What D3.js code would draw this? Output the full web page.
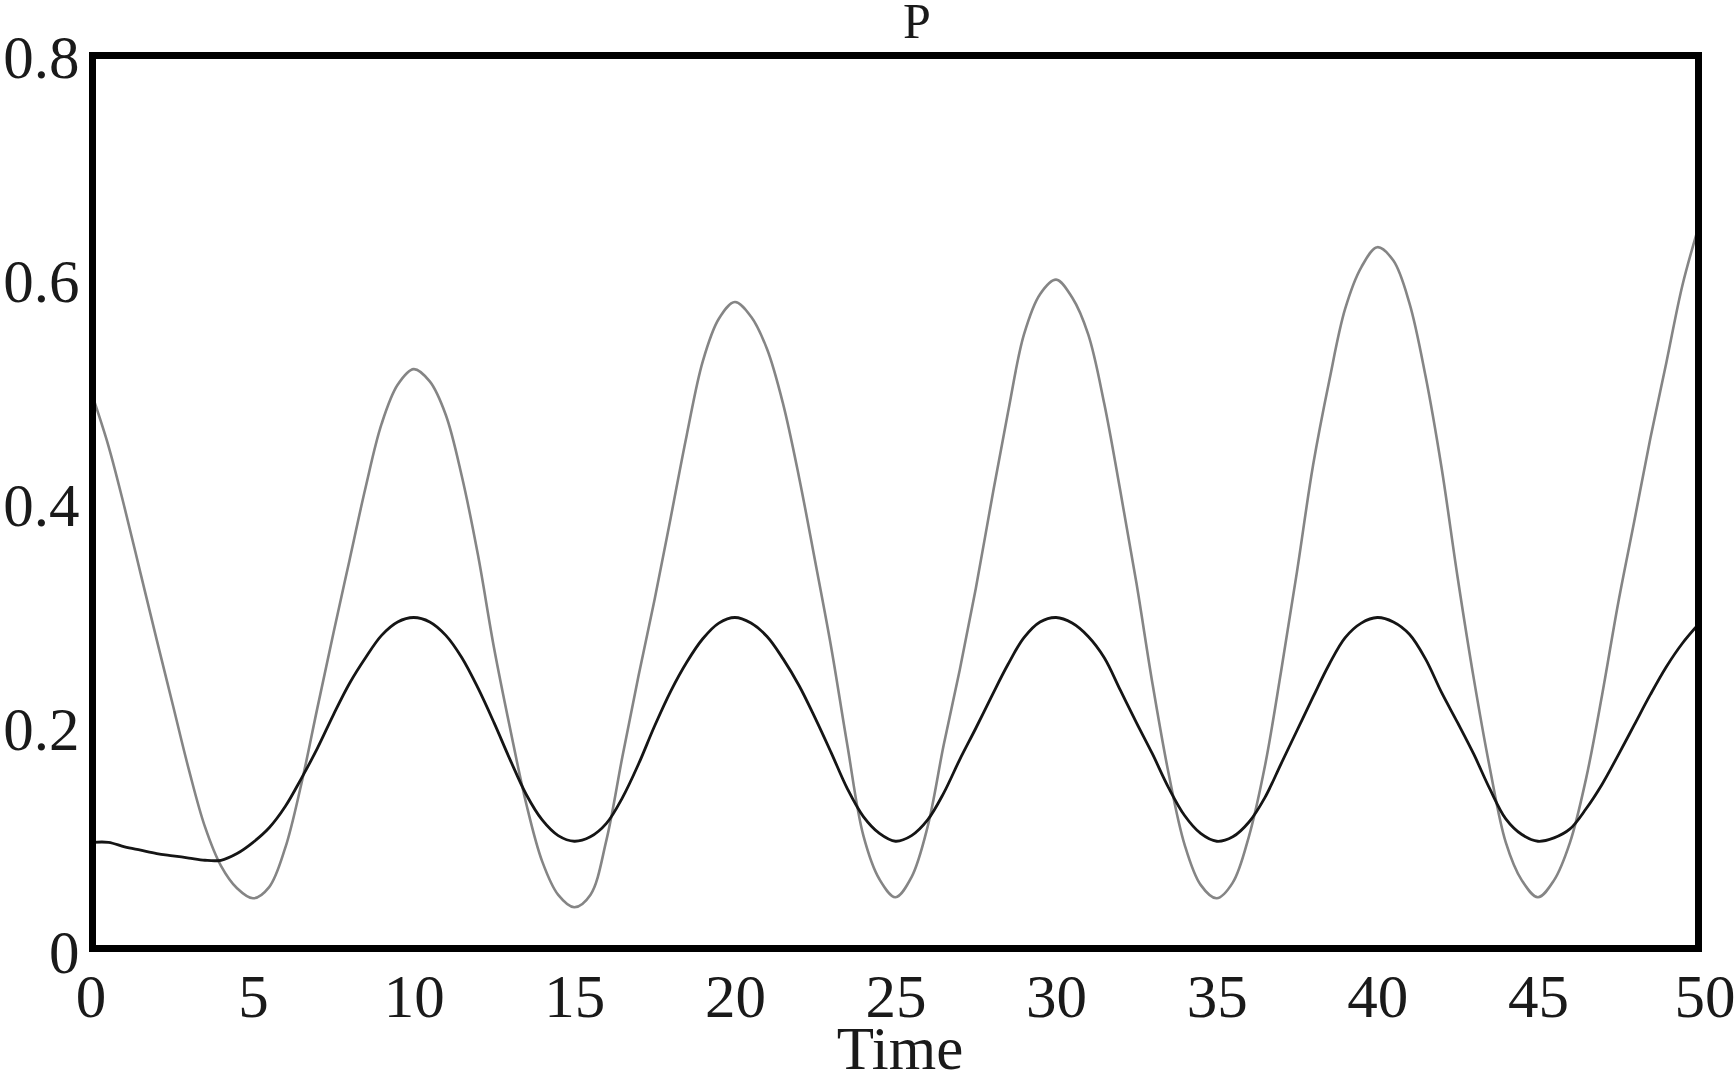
<!DOCTYPE html>
<html>
<head>
<meta charset="utf-8">
<script src="https://cdn.jsdelivr.net/npm/d3@7"></script>
<style>
  html, body { margin: 0; padding: 0; background: #fff; }
  svg { display: block; }
  text { font-family: "Liberation Serif", "Times New Roman", serif; fill: #1a1a1a; }
</style>
</head>
<body>
<svg id="chart" width="1735" height="1072"></svg>
<script>
// ---- data ----
const title = "P";
const xLabel = "Time";
const time = d3.range(0, 50.01, 0.5);
const xTicks = [0, 5, 10, 15, 20, 25, 30, 35, 40, 45, 50];
const yTicks = [0, 0.2, 0.4, 0.6, 0.8];
const yTickLabels = ["0", "0.2", "0.4", "0.6", "0.8"];

// grey series (larger oscillation), t = 0, 0.5, ..., 50
const seriesGrey = [
  0.497, 0.452, 0.397, 0.338, 0.279, 0.221, 0.163, 0.112, 0.077, 0.057,
  0.048, 0.058, 0.093, 0.150, 0.218, 0.285, 0.350, 0.415, 0.472, 0.507,
  0.521, 0.510, 0.480, 0.425, 0.355, 0.272, 0.200, 0.133, 0.081, 0.051,
  0.040, 0.051, 0.100, 0.175, 0.247, 0.315, 0.388, 0.462, 0.528, 0.566,
  0.581, 0.568, 0.539, 0.490, 0.424, 0.349, 0.272, 0.185, 0.104, 0.065,
  0.049, 0.067, 0.112, 0.185, 0.252, 0.325, 0.405, 0.482, 0.552, 0.588,
  0.601, 0.585, 0.552, 0.490, 0.412, 0.330, 0.240, 0.160, 0.096, 0.060,
  0.048, 0.062, 0.103, 0.166, 0.250, 0.340, 0.435, 0.510, 0.575, 0.612,
  0.630, 0.618, 0.580, 0.515, 0.433, 0.335, 0.245, 0.165, 0.098, 0.064,
  0.049, 0.064, 0.098, 0.155, 0.230, 0.312, 0.385, 0.459, 0.527, 0.596,
  0.648
];

// black series (smaller oscillation), t = 0, 0.5, ..., 50
const seriesBlack = [
  0.098, 0.098, 0.094, 0.091, 0.088, 0.086, 0.084, 0.082, 0.082, 0.088,
  0.098, 0.111, 0.130, 0.155, 0.182, 0.212, 0.240, 0.263, 0.283, 0.295,
  0.299, 0.295, 0.283, 0.263, 0.236, 0.205, 0.172, 0.141, 0.118, 0.104,
  0.099, 0.103, 0.115, 0.138, 0.168, 0.202, 0.233, 0.259, 0.280, 0.294,
  0.299, 0.294, 0.282, 0.262, 0.238, 0.209, 0.178, 0.146, 0.121, 0.106,
  0.099, 0.104, 0.118, 0.142, 0.172, 0.200, 0.229, 0.257, 0.281, 0.295,
  0.299, 0.294, 0.282, 0.263, 0.234, 0.205, 0.177, 0.147, 0.122, 0.106,
  0.099, 0.103, 0.116, 0.138, 0.168, 0.198, 0.228, 0.257, 0.281, 0.294,
  0.299, 0.295, 0.284, 0.262, 0.232, 0.205, 0.177, 0.146, 0.119, 0.105,
  0.099, 0.102, 0.110, 0.128, 0.150, 0.176, 0.203, 0.230, 0.255, 0.276,
  0.293
];

// ---- layout ----
const frame = { left: 92.5, right: 1698.5, top: 55.5, bottom: 948.5 };
const svg = d3.select("#chart");

const x = d3.scaleLinear().domain([0, 50]).range([frame.left, frame.right]);
const y = d3.scaleLinear().domain([0, 0.8]).range([952, 57]);

svg.append("clipPath").attr("id", "plotclip")
  .append("rect")
  .attr("x", frame.left).attr("y", frame.top)
  .attr("width", frame.right - frame.left).attr("height", frame.bottom - frame.top);

const line = d3.line()
  .x((d, i) => x(time[i]))
  .y(d => y(d))
  .curve(d3.curveCatmullRom.alpha(0.5));

const plot = svg.append("g").attr("clip-path", "url(#plotclip)");
plot.append("path")
  .datum(seriesGrey)
  .attr("d", line)
  .attr("fill", "none")
  .attr("stroke", "#858585")
  .attr("stroke-width", 2.6);
plot.append("path")
  .datum(seriesBlack)
  .attr("d", line)
  .attr("fill", "none")
  .attr("stroke", "#151515")
  .attr("stroke-width", 2.8);

// frame
svg.append("rect")
  .attr("x", frame.left).attr("y", frame.top)
  .attr("width", frame.right - frame.left).attr("height", frame.bottom - frame.top)
  .attr("fill", "none")
  .attr("stroke", "#000")
  .attr("stroke-width", 7);

// y axis labels
const yAxis = d3.axisLeft(y).tickValues(yTicks).tickSize(0)
  .tickFormat((d, i) => yTickLabels[i]);
const gy = svg.append("g").attr("transform", `translate(${frame.left - 13},0)`).call(yAxis);
gy.select(".domain").remove();
gy.selectAll("text")
  .attr("x", 0)
  .attr("dy", "0.34em")
  .attr("font-size", 61)
  .attr("font-family", "'Liberation Serif', 'Times New Roman', serif")
  .attr("fill", "#1a1a1a");

// x axis labels
const xAxis = d3.axisBottom(x).tickValues(xTicks).tickSize(0).tickFormat(d3.format("d"));
const gx = svg.append("g").attr("transform", `translate(0,${frame.bottom})`).call(xAxis);
gx.select(".domain").remove();
gx.selectAll("text")
  .attr("y", 68)
  .attr("dy", 0)
  .attr("font-size", 61)
  .attr("font-family", "'Liberation Serif', 'Times New Roman', serif")
  .attr("fill", "#1a1a1a");
gx.selectAll(".tick").filter(d => d === 0).select("text").attr("dx", -2);
gx.selectAll(".tick").filter(d => d === 50).select("text").attr("dx", 6);

// title and axis title
svg.append("text")
  .attr("x", 917).attr("y", 38)
  .attr("text-anchor", "middle")
  .attr("font-size", 50)
  .text(title);

svg.append("text")
  .attr("x", 900).attr("y", 1069)
  .attr("text-anchor", "middle")
  .attr("font-size", 61)
  .text(xLabel);
</script>
</body>
</html>
